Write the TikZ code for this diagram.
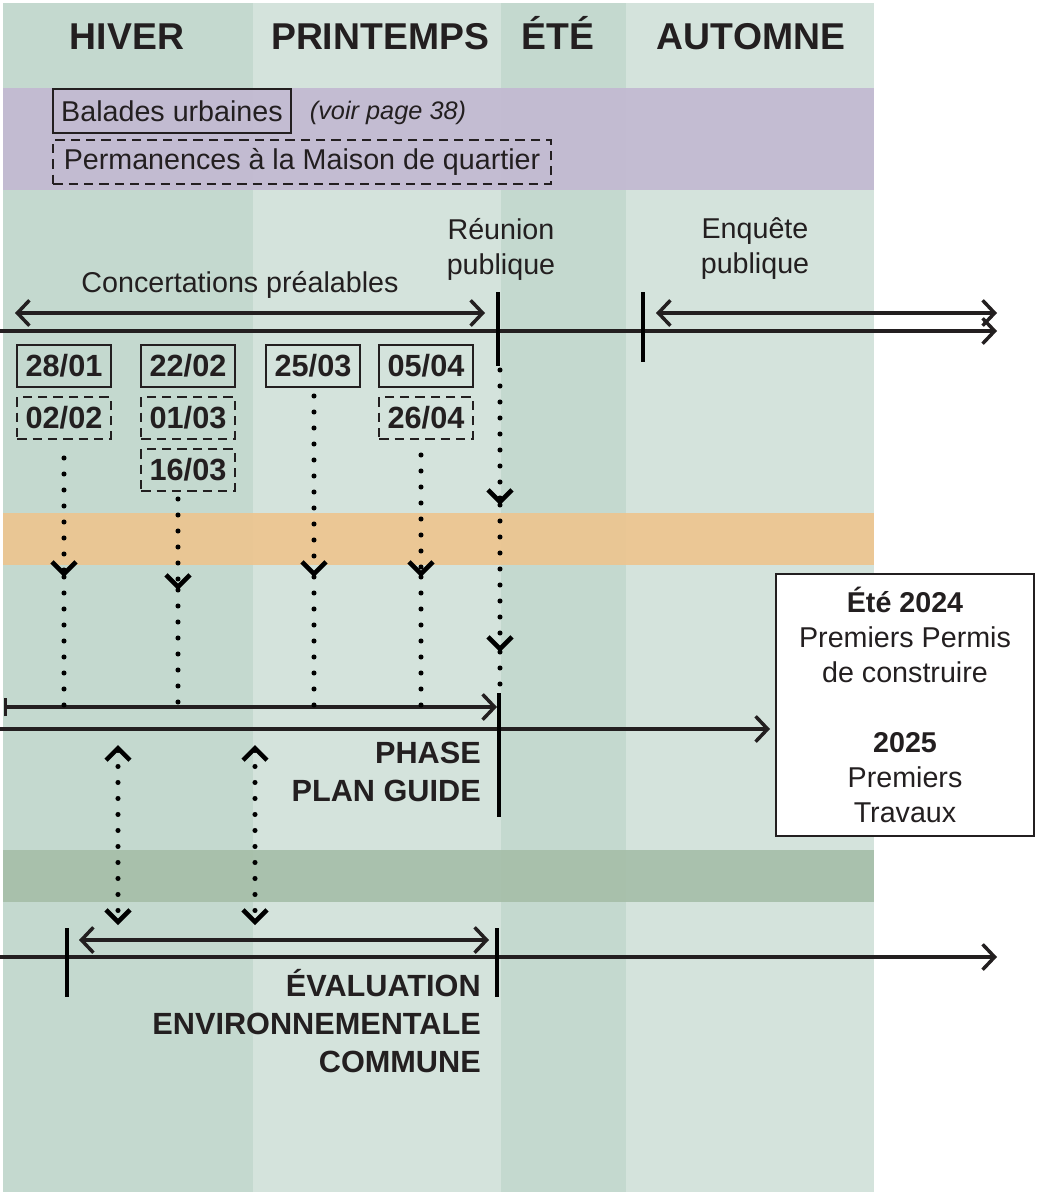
\documentclass[tikz,border=0pt]{standalone}
\usepackage{fontspec}
\setmainfont{Liberation Sans}
\usetikzlibrary{arrows.meta, positioning}
\definecolor{colDark}{HTML}{C4D9CF}
\definecolor{colLight}{HTML}{D4E3DC}
\definecolor{bandPurple}{HTML}{C2B8D2}
\definecolor{bandOrange}{HTML}{EEC48E}
\definecolor{bandGreen}{HTML}{A5BEA8}
\definecolor{ink}{HTML}{231F20}

\begin{document}
\begin{tikzpicture}[x=0.75pt, y=-0.75pt]
  \tikzset{
    season/.style={
      font=\fontsize{28}{30}\selectfont\bfseries,
      text=ink,
      anchor=base
    },
    plain/.style={
      font=\fontsize{21.5}{26.3}\selectfont,
      text=ink,
      align=center
    },
    datebox/.style={
      draw=ink,
      line width=1.6pt,
      minimum width=70pt,
      minimum height=32pt,
      inner sep=0pt,
      text=ink,
      font=\fontsize{23}{25}\selectfont\bfseries
    },
    datedash/.style={
      datebox,
      dash pattern=on 7pt off 4.5pt
    },
    phase/.style={
      font=\fontsize{23}{29}\selectfont\bfseries,
      text=ink,
      align=right,
      inner sep=0pt,
      anchor=east
    },
    timeline/.style={
      draw=ink,
      line width=2.6pt
    },
    tick/.style={
      draw=black,
      line width=3.6pt
    },
    dotline/.style={
      draw=black,
      line width=3.8pt,
      line cap=round,
      dash pattern=on 0pt off 12pt
    },
    >={Straight Barb[length=9pt,width=19pt,line width=2.6pt]},
    dotarrow/.style={
      dotline,
      -{Straight Barb[length=9pt,width=18pt,line width=3.4pt]}
    },
    dotboth/.style={
      dotline,
      {Straight Barb[length=9pt,width=18pt,line width=3.4pt]}-{Straight Barb[length=9pt,width=18pt,line width=3.4pt]}
    }
  }
  \useasboundingbox (0,0) rectangle (1040,1192);

  % Season columns
  \fill[colDark] (3,3) rectangle (253,1192);
  \fill[colLight] (253,3) rectangle (501,1192);
  \fill[colDark] (501,3) rectangle (626,1192);
  \fill[colLight] (626,3) rectangle (874,1192);

  % Coloured bands
  \fill[bandPurple, opacity=0.9] (3,88) rectangle (874,190);
  \fill[bandOrange, opacity=0.9] (3,513) rectangle (874,565);
  \fill[bandGreen, opacity=0.9] (3,850) rectangle (874,902);

  % Season titles
  \node[season] (hiver) at (127,49) {HIVER};
  \node[season] (printemps) at (380,49) {PRINTEMPS};
  \node[season] (ete) at (558,49) {ÉTÉ};
  \node[season] (automne) at (751,49) {AUTOMNE};

  % Legend
  \node[plain, draw=ink, line width=1.6pt, minimum width=178pt, minimum height=33pt, inner sep=0pt] (balades) at (172,111) {Balades urbaines};
  \node[plain, font=\fontsize{19}{24}\selectfont\itshape] (voir) at (388,113) {(voir page 38)};
  \node[plain, draw=ink, line width=1.6pt, dash pattern=on 7pt off 4.5pt, minimum width=373pt, minimum height=33pt, inner sep=0pt] (permanences) at (302,162) {Permanences à la Maison de quartier};

  % Top timeline
  \node[plain] (concert) at (240,285) {Concertations préalables};
  \node[plain] (reunion) at (501,249) {Réunion\\publique};
  \node[plain] (enquete) at (755,249) {Enquête\\publique};

  \coordinate (tlA) at (0,331);
  \coordinate (tlB) at (997,331);
  \draw[timeline, ->] (tlA) -- (tlB);
  \coordinate (concA) at (15,313);
  \coordinate (concB) at (485,313);
  \draw[timeline, <->] (concA) -- (concB);
  \coordinate (enqA) at (656,313);
  \coordinate (enqB) at (997,313);
  \draw[timeline, <->] (enqA) -- (enqB);
  \coordinate (reuTop) at (498,292);
  \coordinate (reuBot) at (498,366);
  \draw[tick] (reuTop) -- (reuBot);
  \coordinate (enqTop) at (643,292);
  \coordinate (enqBot) at (643,362);
  \draw[tick] (enqTop) -- (enqBot);

  % Dates
  \node[datebox] (d2801) at (64,366) {28/01};
  \node[datebox] (d2202) at (188,366) {22/02};
  \node[datebox] (d2503) at (313,366) {25/03};
  \node[datebox] (d0504) at (426,366) {05/04};
  \node[datedash] (d0202) at (64,418) {02/02};
  \node[datedash] (d0103) at (188,418) {01/03};
  \node[datedash] (d2604) at (426,418) {26/04};
  \node[datedash] (d1603) at (188,470) {16/03};

  % Phase plan guide
  \coordinate (pgA) at (4,707);
  \coordinate (pgB) at (497,707);
  \draw[timeline, {Bar[width=14pt,line width=2.6pt]}->] (pgA) -- (pgB);
  \coordinate (mainA) at (0,729);
  \coordinate (mainB) at (770,729);
  \draw[timeline, ->] (mainA) -- (mainB);
  \coordinate (pgTop) at (499,693);
  \coordinate (pgBot) at (499,817);
  \draw[tick] (pgTop) -- (pgBot);
  \node[phase] (plan) at (481,772) {PHASE\\PLAN GUIDE};

  % Dotted links to the plan guide
  \coordinate (m1) at (64,577);
  \coordinate (e1) at (64,705);
  \draw[dotarrow] (64,458) -- (m1);
  \draw[dotline] (m1) -- (e1);
  \coordinate (m2) at (178,590);
  \coordinate (e2) at (178,705);
  \draw[dotarrow] (178,499) -- (m2);
  \draw[dotline] (m2) -- (e2);
  \coordinate (m3) at (314,577);
  \coordinate (e3) at (314,705);
  \draw[dotarrow] (314,396) -- (m3);
  \draw[dotline] (m3) -- (e3);
  \coordinate (m4) at (421,577);
  \coordinate (e4) at (421,705);
  \draw[dotarrow] (421,455) -- (m4);
  \draw[dotline] (m4) -- (e4);
  \coordinate (r1) at (500,505);
  \coordinate (r2) at (500,652);
  \coordinate (r3) at (500,697);
  \draw[dotarrow] (500,370) -- (r1);
  \draw[dotarrow] (r1) -- (r2);
  \draw[dotline] (r2) -- (r3);

  % Result box
  \node[plain, draw=ink, fill=white, line width=1.6pt, minimum width=193pt, minimum height=197pt, inner sep=0pt] (result) at (905,705)
    {\textbf{Été 2024}\\Premiers Permis\\de construire\\[26.3pt]\textbf{2025}\\Premiers\\Travaux};

  % Evaluation environnementale
  \coordinate (ev1A) at (118,745);
  \coordinate (ev1B) at (118,925);
  \draw[dotboth] (ev1A) -- (ev1B);
  \coordinate (ev2A) at (255,745);
  \coordinate (ev2B) at (255,925);
  \draw[dotboth] (ev2A) -- (ev2B);

  \coordinate (evA) at (0,957);
  \coordinate (evB) at (997,957);
  \draw[timeline, ->] (evA) -- (evB);
  \coordinate (evsA) at (79,940);
  \coordinate (evsB) at (489,940);
  \draw[timeline, <->] (evsA) -- (evsB);
  \draw[tick] (67,928) -- (67,997);
  \draw[tick] (497,928) -- (497,997);
  \node[phase, font=\fontsize{23}{28.5}\selectfont\bfseries] (evaluation) at (481,1021) {ÉVALUATION\\ENVIRONNEMENTALE\\COMMUNE};
\end{tikzpicture}
\end{document}
